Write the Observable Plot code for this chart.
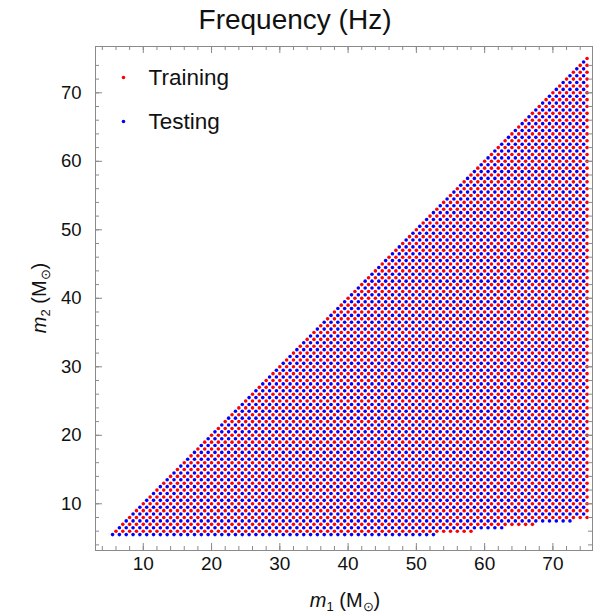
<!DOCTYPE html>
<html><head><meta charset="utf-8">
<script src="https://cdn.jsdelivr.net/npm/d3@7"></script>
<script src="https://cdn.jsdelivr.net/npm/@observablehq/plot@0.6"></script>
<style>
body{margin:0;background:#fff;font-family:"Liberation Sans",Arial,sans-serif;}
#title{height:40px;line-height:40px;text-align:center;font-size:28px;color:#111;padding-right:4px;}
#chart svg{display:block;}
</style></head><body>
<div id="title">Frequency (Hz)</div>
<div id="chart"></div>
<script>
// grid of component masses (solar masses)
const trainingM1 = d3.range(6, 75.5, 1);
const trainingM2 = d3.range(6, 75.5, 1);
const testingM1 = d3.range(5.5, 75, 1);
const testingM2 = d3.range(5.5, 75, 1);
const maxMassRatio = 9.7;
const majorTicks = [10, 20, 30, 40, 50, 60, 70];
const minorTicks = d3.range(4, 76, 2);
const legendLabels = ["Training", "Testing"];
const colors = ["#ff0000", "#0000ff"];

function grid(m1s, m2s) {
  return d3.cross(m1s, m2s, (m1, m2) => ({m1, m2})).filter(d => d.m2 <= d.m1 && d.m1 / d.m2 <= maxMassRatio);
}
const training = grid(trainingM1, trainingM2);
const testing = grid(testingM1, testingM2);

const W = 594, H = 574, mL = 95, mR = 2, mT = 6, mB = 64;
const fw = W - mL - mR, fh = H - mT - mB;
const gray = "#8a8a8a";

const svg = Plot.plot({
  width: W, height: H,
  marginLeft: mL, marginRight: mR, marginTop: mT, marginBottom: mB,
  x: {domain: [3.0, 75.8]},
  y: {domain: [3.18, 76.76]},
  style: {fontFamily: "Liberation Sans, Arial, sans-serif", fontSize: "18.5px", color: "#111", background: "white"},
  marks: [
    Plot.dot(training, {x: "m1", y: "m2", r: 1.8, fill: colors[0]}),
    Plot.dot(testing, {x: "m1", y: "m2", r: 1.8, fill: colors[1]}),
    Plot.frame({stroke: gray}),
    Plot.tickX(minorTicks, {x: d => d, insetTop: fh - 4, stroke: gray}),
    Plot.tickX(majorTicks, {x: d => d, insetTop: fh - 7, stroke: gray}),
    Plot.tickX(minorTicks, {x: d => d, insetBottom: fh - 4, stroke: gray}),
    Plot.tickX(majorTicks, {x: d => d, insetBottom: fh - 7, stroke: gray}),
    Plot.tickY(minorTicks, {y: d => d, insetRight: fw - 4, stroke: gray}),
    Plot.tickY(majorTicks, {y: d => d, insetRight: fw - 7, stroke: gray}),
    Plot.tickY(minorTicks, {y: d => d, insetLeft: fw - 4, stroke: gray}),
    Plot.tickY(majorTicks, {y: d => d, insetLeft: fw - 7, stroke: gray}),
    Plot.axisX(majorTicks, {anchor: "bottom", tickSize: 0, tickPadding: 6, label: null, fill: "#111", fontSize: 19}),
    Plot.axisY(majorTicks, {anchor: "left", tickSize: 0, tickPadding: 14, label: null, fill: "#111", fontSize: 18.5}),
    Plot.dot([0], {frameAnchor: "top-left", dx: 28, dy: 31, r: 1.8, fill: colors[0]}),
    Plot.dot([0], {frameAnchor: "top-left", dx: 28, dy: 75, r: 1.8, fill: colors[1]}),
    Plot.text([legendLabels[0]], {frameAnchor: "top-left", dx: 53, dy: 31, text: d => d, textAnchor: "start", lineAnchor: "middle", fontSize: 22.5, fill: "#111"}),
    Plot.text([legendLabels[1]], {frameAnchor: "top-left", dx: 53, dy: 75, text: d => d, textAnchor: "start", lineAnchor: "middle", fontSize: 22.5, fill: "#111"})
  ]
});
document.getElementById("chart").appendChild(svg);

function massLabel(sel, idx) {
  sel.attr("font-size", 20).attr("fill", "#111").attr("font-family", "Liberation Sans, Arial, sans-serif");
  sel.append("tspan").attr("font-style", "italic").text("m");
  sel.append("tspan").attr("font-size", 13).attr("dy", 4).text(idx);
  sel.append("tspan").attr("dy", -4).text(" (M");
  sel.append("tspan").attr("font-size", 13).attr("dy", 4).text("\u2299");
  sel.append("tspan").attr("dy", -4).text(")");
}
const s = d3.select(svg);
massLabel(s.append("text").attr("x", 345).attr("y", 567).attr("text-anchor", "middle"), "1");
massLabel(s.append("text").attr("transform", "translate(46,258) rotate(-90)").attr("text-anchor", "middle"), "2");
</script>
</body></html>
